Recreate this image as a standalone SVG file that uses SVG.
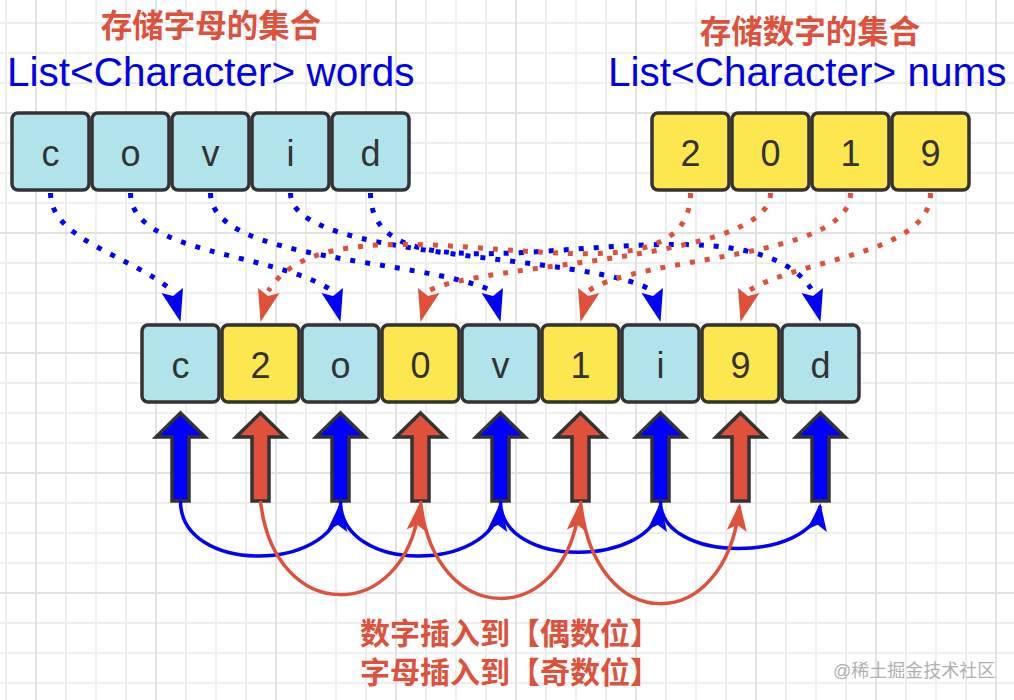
<svg xmlns="http://www.w3.org/2000/svg" width="1014" height="700" viewBox="0 0 1014 700">
<style>
.box{stroke:#333;stroke-width:3.5}
.lb{fill:#b1e3ea}
.ye{fill:#fde74f}
.val{font-family:"Liberation Sans",Arial,sans-serif;font-size:36px;fill:#333;text-anchor:middle}
.ttl{font-family:"Liberation Sans","Noto Sans CJK SC",sans-serif;font-weight:bold;font-size:30px;fill:#e0513b;text-anchor:middle}
.big{font-size:31.5px}
.code{font-family:"Liberation Sans",Arial,sans-serif;font-size:40.5px;fill:#0000f0}
.dotb{fill:none;stroke:#0000ff;stroke-width:5;stroke-dasharray:5 10}
.dotr{fill:none;stroke:#e0513b;stroke-width:5;stroke-dasharray:5 10}
.bf{fill:#0000ff}
.rf{fill:#e0513b}
.blk{stroke:#333;stroke-width:3.5;stroke-linejoin:miter}
.arcb{fill:none;stroke:#0000ff;stroke-width:3.5}
.arcr{fill:none;stroke:#e0513b;stroke-width:3.5}
.wm{font-family:"Liberation Sans","Noto Sans CJK SC",sans-serif;font-size:18px;fill:#b0b0b0}
</style>
<defs>
<pattern id="grid" x="35" y="112" width="120" height="120" patternUnits="userSpaceOnUse">
<rect x="30" y="0" width="2" height="120" fill="#eeeeee"/>
<rect x="60" y="0" width="2" height="120" fill="#eeeeee"/>
<rect x="90" y="0" width="2" height="120" fill="#eeeeee"/>
<rect x="0" y="30" width="120" height="2" fill="#eeeeee"/>
<rect x="0" y="60" width="120" height="2" fill="#eeeeee"/>
<rect x="0" y="90" width="120" height="2" fill="#eeeeee"/>
<rect x="0" y="0" width="2" height="120" fill="#e2e2e2"/>
<rect x="0" y="0" width="120" height="2" fill="#e2e2e2"/>
</pattern>
<path id="hb" d="M0,0 L-19,-29 L-7.5,-26 L2.5,-34 Z"/>
<path id="hr" d="M0,0 L-2.5,-34 L7.5,-26 L19,-29 Z"/>
<path id="up" d="M0,-89 L24.5,-65 L8.5,-65 L8.5,-1 L-8.5,-1 L-8.5,-65 L-24.5,-65 Z"/>
<marker id="mb" markerUnits="userSpaceOnUse" markerWidth="30" markerHeight="30" refX="-3" refY="0" orient="auto" style="overflow:visible">
<path d="M0,0 L-28,-10 L-22,0 L-28,10 Z" fill="#0000ff"/>
</marker>
<marker id="mr" markerUnits="userSpaceOnUse" markerWidth="30" markerHeight="30" refX="-3" refY="0" orient="auto" style="overflow:visible">
<path d="M0,0 L-28,-10 L-22,0 L-28,10 Z" fill="#e0513b"/>
</marker>
</defs>
<rect x="0" y="0" width="1014" height="700" fill="#ffffff"/>
<rect x="0" y="0" width="1014" height="700" fill="url(#grid)"/>

<g id="titles">
<text class="ttl big" x="211" y="37">存储字母的集合</text>
<text class="code" x="7" y="86">List&lt;Character&gt; words</text>
<text class="ttl big" x="810" y="43">存储数字的集合</text>
<text class="code" x="608" y="86">List&lt;Character&gt; nums</text>
</g>

<g id="words">
<g id="w-c"><rect class="box lb" x="12" y="113" width="77" height="77" rx="6"/><text class="val" x="50.5" y="166">c</text></g>
<g id="w-o"><rect class="box lb" x="92" y="113" width="77" height="77" rx="6"/><text class="val" x="130.5" y="166">o</text></g>
<g id="w-v"><rect class="box lb" x="172" y="113" width="77" height="77" rx="6"/><text class="val" x="210.5" y="166">v</text></g>
<g id="w-i"><rect class="box lb" x="252" y="113" width="77" height="77" rx="6"/><text class="val" x="290.5" y="166">i</text></g>
<g id="w-d"><rect class="box lb" x="332" y="113" width="77" height="77" rx="6"/><text class="val" x="370.5" y="166">d</text></g>
</g>

<g id="nums">
<g id="n-2"><rect class="box ye" x="652" y="113" width="77" height="77" rx="6"/><text class="val" x="690.5" y="166">2</text></g>
<g id="n-0"><rect class="box ye" x="732" y="113" width="77" height="77" rx="6"/><text class="val" x="770.5" y="166">0</text></g>
<g id="n-1"><rect class="box ye" x="812" y="113" width="77" height="77" rx="6"/><text class="val" x="850.5" y="166">1</text></g>
<g id="n-9"><rect class="box ye" x="892" y="113" width="77" height="77" rx="6"/><text class="val" x="930.5" y="166">9</text></g>
</g>

<g id="result">
<g id="r-c"><rect class="box lb" x="142" y="325" width="77" height="77" rx="6"/><text class="val" x="180.5" y="378">c</text></g>
<g id="r-2"><rect class="box ye" x="222" y="325" width="77" height="77" rx="6"/><text class="val" x="260.5" y="378">2</text></g>
<g id="r-o"><rect class="box lb" x="302" y="325" width="77" height="77" rx="6"/><text class="val" x="340.5" y="378">o</text></g>
<g id="r-0"><rect class="box ye" x="382" y="325" width="77" height="77" rx="6"/><text class="val" x="420.5" y="378">0</text></g>
<g id="r-v"><rect class="box lb" x="462" y="325" width="77" height="77" rx="6"/><text class="val" x="500.5" y="378">v</text></g>
<g id="r-1"><rect class="box ye" x="542" y="325" width="77" height="77" rx="6"/><text class="val" x="580.5" y="378">1</text></g>
<g id="r-i"><rect class="box lb" x="622" y="325" width="77" height="77" rx="6"/><text class="val" x="660.5" y="378">i</text></g>
<g id="r-9"><rect class="box ye" x="702" y="325" width="77" height="77" rx="6"/><text class="val" x="740.5" y="378">9</text></g>
<g id="r-d"><rect class="box lb" x="782" y="325" width="77" height="77" rx="6"/><text class="val" x="820.5" y="378">d</text></g>
</g>

<g id="pointers">
<use href="#up" x="180.5" y="502" class="blk bf"/>
<use href="#up" x="260.5" y="502" class="blk rf"/>
<use href="#up" x="340.5" y="502" class="blk bf"/>
<use href="#up" x="420.5" y="502" class="blk rf"/>
<use href="#up" x="500.5" y="502" class="blk bf"/>
<use href="#up" x="580.5" y="502" class="blk rf"/>
<use href="#up" x="660.5" y="502" class="blk bf"/>
<use href="#up" x="740.5" y="502" class="blk rf"/>
<use href="#up" x="820.5" y="502" class="blk bf"/>
</g>

<g id="connectors">
<path class="dotb" d="M50.5,193 C50.5,240 130,255 172.7,291"/>
<path class="dotb" d="M130.5,193 C130.5,255 275,252 332.7,291"/>
<path class="dotb" d="M210.5,193 C210.5,262 420,258 492.7,291"/>
<path class="dotb" d="M290.5,193 C290.5,262 590,252 652.7,291"/>
<path class="dotb" d="M370.5,193 C370.5,330 740,175 812.7,291"/>
<path class="dotr" d="M690.5,193 C690.5,330 340,175 268.3,291"/>
<path class="dotr" d="M770.5,193 C770.5,262 480,262 428.3,291"/>
<path class="dotr" d="M850.5,193 C850.5,260 640,255 588.3,291"/>
<path class="dotr" d="M930.5,193 C930.5,255 800,258 748.3,291"/>
<use href="#hb" x="180.5" y="322" class="bf"/>
<use href="#hb" x="340.5" y="322" class="bf"/>
<use href="#hb" x="500.5" y="322" class="bf"/>
<use href="#hb" x="660.5" y="322" class="bf"/>
<use href="#hb" x="820.5" y="322" class="bf"/>
<use href="#hr" x="260.5" y="322" class="rf"/>
<use href="#hr" x="420.5" y="322" class="rf"/>
<use href="#hr" x="580.5" y="322" class="rf"/>
<use href="#hr" x="740.5" y="322" class="rf"/>

<path class="arcb" marker-end="url(#mb)" d="M180.5,501 C180.5,575 333,572 340,506"/>
<path class="arcb" marker-end="url(#mb)" d="M340.5,501 C340.5,575 493,572 500,506"/>
<path class="arcb" marker-end="url(#mb)" d="M500.5,501 C500.5,570 653,567 660,506"/>
<path class="arcb" marker-end="url(#mb)" d="M660.5,501 C660.5,565 813,562 820,506"/>
<path class="arcr" marker-end="url(#mr)" d="M260.5,501 C274,625 405,625 419.5,506"/>
<path class="arcr" marker-end="url(#mr)" d="M420.5,501 C434,630 565,630 579.5,506"/>
<path class="arcr" marker-end="url(#mr)" d="M580.5,501 C594,637 725,637 739.5,506"/>
</g>

<g id="notes">
<text class="ttl" x="510" y="644">数字插入到【偶数位】</text>
<text class="ttl" x="510" y="683">字母插入到【奇数位】</text>
<text class="wm" x="833" y="677">@稀土掘金技术社区</text>
</g>
</svg>
